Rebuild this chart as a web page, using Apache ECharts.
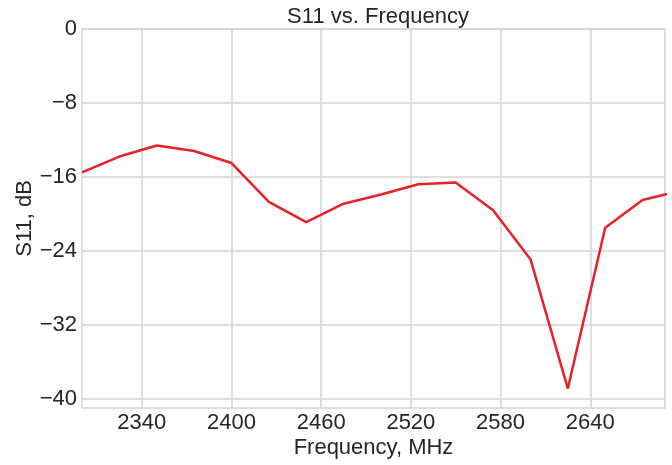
<!DOCTYPE html>
<html>
<head>
<meta charset="utf-8">
<script src="https://cdn.jsdelivr.net/npm/echarts@6/dist/echarts.min.js"></script>
<style>
  html, body { margin: 0; padding: 0; background: #fff; }
  #chart { width: 672px; height: 465px; }
</style>
</head>
<body>
<div id="chart"></div>
<script>
// frequency points, MHz
var freqs = [2300, 2325, 2350, 2375, 2400, 2425, 2450, 2475, 2500, 2525, 2550, 2575, 2600, 2625, 2650, 2675, 2700];
// S11, dB
var s11 = [-15.5, -13.8, -12.6, -13.2, -14.5, -18.7, -20.9, -18.9, -17.9, -16.8, -16.6, -19.6, -24.9, -38.9, -21.5, -18.5, -17.5];
// tick labels
var xTicks = [2340, 2400, 2460, 2520, 2580, 2640];
var yTicks = [0, -8, -16, -24, -32, -40];

var gridColor = '#d4d4d4';
var textColor = '#262626';
var fontFam = 'Liberation Sans, Arial, sans-serif';

var chart = echarts.init(document.getElementById('chart'));
chart.setOption({
  animation: false,
  title: {
    text: 'S11 vs. Frequency',
    left: 373,
    textAlign: 'center',
    top: 1,
    textStyle: { fontFamily: fontFam, fontSize: 22, fontWeight: 'normal', color: textColor }
  },
  grid: {
    left: 82, right: 7, top: 29, bottom: 57,
    outerBoundsMode: 'none',
    containLabel: false,
    show: true,
    borderColor: gridColor,
    borderWidth: 1.5
  },
  xAxis: {
    type: 'value',
    min: 2300,
    max: 2690,
    name: 'Frequency, MHz',
    nameLocation: 'middle',
    nameGap: 29,
    nameMoveOverlap: false,
    nameTextStyle: { fontFamily: fontFam, fontSize: 22, color: textColor },
    axisLine: { show: false },
    axisTick: { show: false, customValues: xTicks },
    axisLabel: {
      customValues: xTicks,
      margin: 4,
      fontFamily: fontFam, fontSize: 22, color: textColor,
      formatter: function (v) { return String(v); }
    },
    splitLine: { show: true, lineStyle: { color: gridColor, width: 1.5 } }
  },
  yAxis: {
    type: 'value',
    min: -41,
    max: 0,
    name: 'S11, dB',
    nameLocation: 'middle',
    nameGap: 46,
    nameMoveOverlap: false,
    nameTextStyle: { fontFamily: fontFam, fontSize: 22, color: textColor },
    axisLine: { show: false },
    axisTick: { show: false, customValues: yTicks },
    axisLabel: {
      customValues: yTicks,
      margin: 5,
      fontFamily: fontFam, fontSize: 22, color: textColor,
      formatter: function (v) { return v < 0 ? '\u2212' + Math.abs(v) : String(v); }
    },
    splitLine: { show: true, lineStyle: { color: gridColor, width: 1.5 } }
  },
  series: [{
    type: 'line',
    data: freqs.map(function (f, i) { return [f, s11[i]]; }),
    showSymbol: false,
    clip: true,
    lineStyle: { color: '#e8202a', width: 2.5 },
    itemStyle: { color: '#e8202a' }
  }]
});
</script>
</body>
</html>
